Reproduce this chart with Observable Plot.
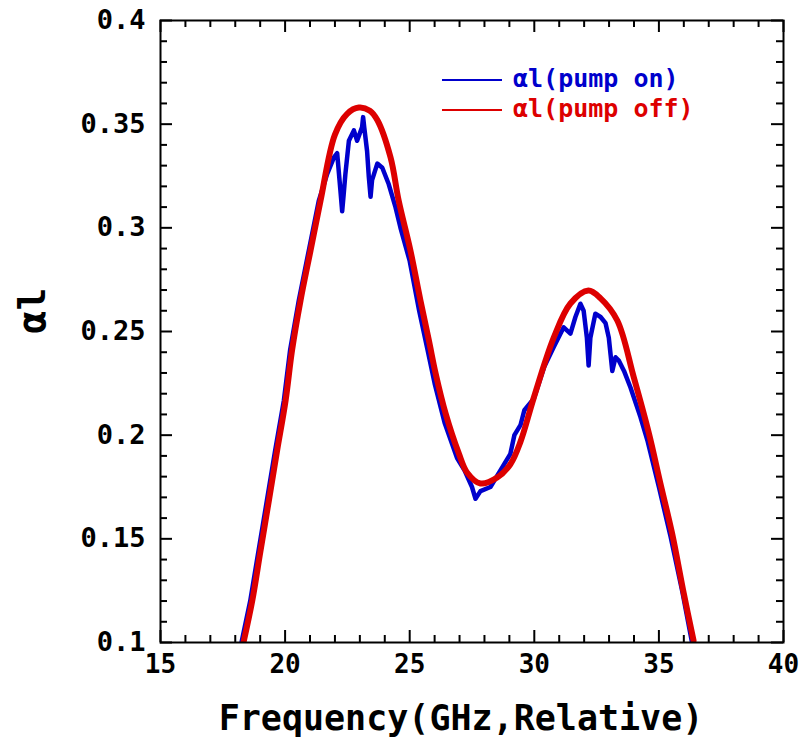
<!DOCTYPE html>
<html><head><meta charset="utf-8">
<script src="https://cdn.jsdelivr.net/npm/d3@7"></script>
<script src="https://cdn.jsdelivr.net/npm/@observablehq/plot@0.6"></script>
<style>
body{margin:0;background:#fff;}
#wrap{position:relative;width:799px;height:738px;}
.lg{position:absolute;font-family:"DejaVu Sans Mono",monospace;font-size:25px;font-weight:bold;line-height:30px;white-space:pre;}
.lgline{position:absolute;height:0;width:60px;}
</style></head><body>
<div id="wrap"></div>
<script>
// pump on (blue) trace
const pumpOnFreq = [18.25,18.6,18.93,19.27,19.6,19.95,20.2,20.55,20.95,21.35,21.69,21.96,22.09,22.22,22.29,22.35,22.42,22.56,22.76,22.89,23.09,23.13,23.18,23.29,23.36,23.43,23.49,23.7,23.9,24.16,24.43,24.63,25.0,25.38,25.72,26.0,26.4,26.9,27.2,27.5,27.64,27.84,28.24,28.64,29.04,29.2,29.45,29.6,29.98,30.4,30.78,31.18,31.45,31.65,31.85,31.98,32.11,32.18,32.25,32.45,32.66,32.86,32.99,33.13,33.26,33.39,33.6,33.86,34.26,34.55,35.0,35.47,35.95,36.33];
const pumpOnAlphaL = [0.100,0.120,0.144,0.1685,0.1926,0.2167,0.241,0.265,0.289,0.313,0.326,0.334,0.336,0.318,0.308,0.316,0.326,0.342,0.347,0.342,0.3486,0.3534,0.348,0.337,0.3245,0.315,0.323,0.331,0.329,0.321,0.310,0.300,0.284,0.260,0.241,0.225,0.206,0.189,0.183,0.175,0.1693,0.173,0.175,0.183,0.191,0.200,0.205,0.212,0.2176,0.233,0.2425,0.252,0.249,0.257,0.2634,0.260,0.247,0.2336,0.247,0.2586,0.257,0.254,0.247,0.231,0.2376,0.236,0.231,0.223,0.2087,0.197,0.175,0.151,0.124,0.100];
// pump off (red) trace
const pumpOffFreq = [18.33,18.68,19.01,19.35,19.68,20.02,20.28,20.62,21.02,21.42,22.0,22.49,22.96,23.4,23.7,24.23,24.56,25.03,25.43,25.77,26.04,26.44,26.97,27.3,27.84,28.51,29.04,29.45,29.97,30.78,31.45,32.17,32.66,33.33,33.99,34.6,35.06,35.53,36.0,36.39];
const pumpOffAlphaL = [0.100,0.120,0.144,0.1685,0.1926,0.2167,0.241,0.265,0.289,0.313,0.345,0.355,0.358,0.3565,0.352,0.334,0.313,0.289,0.265,0.2457,0.2298,0.2105,0.1912,0.182,0.1767,0.1796,0.186,0.197,0.2177,0.247,0.2635,0.2698,0.266,0.2553,0.228,0.2008,0.1767,0.1526,0.1236,0.101];

const xMajorTicks = [15,20,25,30,35,40];
const xMinorTicks = [16,17,18,19,21,22,23,24,26,27,28,29,31,32,33,34,36,37,38,39];
const yMajorTicks = [0.1,0.15,0.2,0.25,0.3,0.35,0.4];
const yMinorTicks = [0.11,0.12,0.13,0.14,0.16,0.17,0.18,0.19,0.21,0.22,0.23,0.24,0.26,0.27,0.28,0.29,0.31,0.32,0.33,0.34,0.36,0.37,0.38,0.39];
const yTickLabels = ["0.1","0.15","0.2","0.25","0.3","0.35","0.4"];
const xTitle = "Frequency(GHz,Relative)";
const yTitle = "αl";
const seriesNames = ["αl(pump on)","αl(pump off)"];
const seriesColors = ["#0000cc","#dd0000"];

const onData = pumpOnFreq.map((f,i)=>({f, v: pumpOnAlphaL[i]}));
const offData = pumpOffFreq.map((f,i)=>({f, v: pumpOffAlphaL[i]}));

const W = 799, H = 738, mL = 160, mR = 16, mT = 20, mB = 96;
const pw = W - mL - mR, ph = H - mT - mB;
const major = 12, minor = 7;
const tk = {stroke: "black", strokeWidth: 2};

const chart = Plot.plot({
  width: W, height: H,
  marginLeft: mL, marginRight: mR, marginTop: mT, marginBottom: mB,
  style: {fontFamily: "DejaVu Sans Mono", fontWeight: "bold", color: "black", background: "white"},
  x: {domain: [15, 40]},
  y: {domain: [0.1, 0.4]},
  marks: [
    Plot.line(onData, {x: "f", y: "v", stroke: seriesColors[0], strokeWidth: 4.5, curve: "linear", clip: true}),
    Plot.line(offData, {x: "f", y: "v", stroke: seriesColors[1], strokeWidth: 6, curve: "catmull-rom", clip: true}),
    // inward ticks, all four sides
    Plot.ruleX(xMajorTicks, {x: d=>d, insetTop: ph - major, ...tk}),
    Plot.ruleX(xMinorTicks, {x: d=>d, insetTop: ph - minor, ...tk}),
    Plot.ruleX(xMajorTicks, {x: d=>d, insetBottom: ph - major, ...tk}),
    Plot.ruleX(xMinorTicks, {x: d=>d, insetBottom: ph - minor, ...tk}),
    Plot.ruleY(yMajorTicks, {y: d=>d, insetRight: pw - major, ...tk}),
    Plot.ruleY(yMinorTicks, {y: d=>d, insetRight: pw - minor, ...tk}),
    Plot.ruleY(yMajorTicks, {y: d=>d, insetLeft: pw - major, ...tk}),
    Plot.ruleY(yMinorTicks, {y: d=>d, insetLeft: pw - minor, ...tk}),
    Plot.frame({stroke: "black", strokeWidth: 2}),
    Plot.axisX(xMajorTicks, {tickSize: 0, tickPadding: 12, fontSize: 26, label: null, tickFormat: d=>String(d)}),
    Plot.axisY(yMajorTicks, {tickSize: 0, tickPadding: 15, fontSize: 27, label: null, tickFormat: (d,i)=>yTickLabels[i]}),
    Plot.text([xTitle], {text: d=>d, frameAnchor: "bottom", dy: 76, dx: -11, fontSize: 35, lineAnchor: "middle", fill: "black"}),
    Plot.text([yTitle], {text: d=>d, frameAnchor: "left", dx: -128, dy: 2, rotate: -90, fontSize: 38, lineAnchor: "middle", fill: "black"})
  ]
});
const wrap = document.getElementById("wrap");
wrap.appendChild(chart);

// legend overlay
const rowsY = [80, 110];
seriesNames.forEach((name, i) => {
  const ln = document.createElement("div");
  ln.className = "lgline";
  ln.style.left = "442px";
  ln.style.top = (rowsY[i] - 1) + "px";
  ln.style.borderTop = "2px solid " + seriesColors[i];
  wrap.appendChild(ln);
  const t = document.createElement("div");
  t.className = "lg";
  t.style.left = "513px";
  t.style.top = (rowsY[i] - 16) + "px";
  t.style.color = seriesColors[i];
  t.textContent = name;
  wrap.appendChild(t);
});
</script>
</body></html>
